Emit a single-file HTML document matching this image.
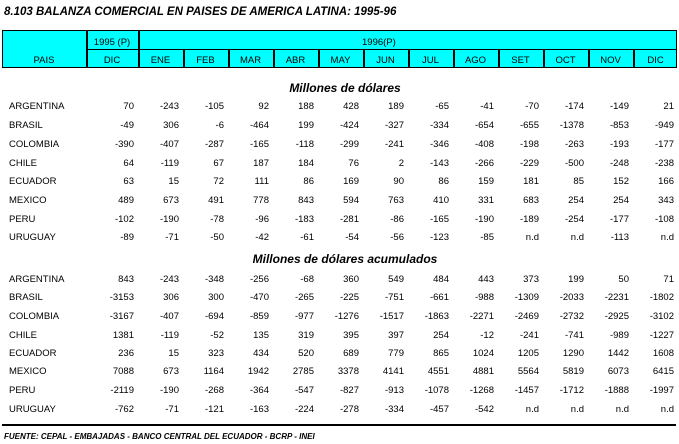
<!DOCTYPE html>
<html><head><meta charset="utf-8"><style>
body{margin:0;width:679px;height:444px;background:#fff;position:relative;overflow:hidden;font-family:"Liberation Sans",Arial,sans-serif;color:#000}
.a{position:absolute;white-space:nowrap;font-size:9.5px;line-height:12px}
.r{text-align:right}
.c{text-align:center}
.bi{font-weight:bold;font-style:italic}
.ln{position:absolute;background:#000}
</style></head><body>
<div class="a bi" style="left:4px;top:5px;font-size:11.5px;line-height:14px">8.103 BALANZA COMERCIAL EN PAISES DE AMERICA LATINA: 1995-96</div>
<div style="position:absolute;left:2px;top:30px;width:673px;height:36px;background:#00ffff;border:1px solid #000"></div>
<div class="ln" style="left:86px;top:49px;width:590px;height:1px"></div>
<div class="ln" style="left:86px;top:30px;width:2px;height:37px"></div>
<div class="ln" style="left:138px;top:30px;width:2px;height:37px"></div>
<div class="a c" style="left:86px;top:37px;width:52px">1995 (P)</div>
<div class="a" style="left:362px;top:37px">1996(P)</div>
<div class="a c" style="left:2px;top:55px;width:84px">PAIS</div>
<div class="a c" style="left:86px;top:55px;width:52px">DIC</div>
<div class="a bi c" style="left:180px;top:81px;width:330px;font-size:12px;line-height:14px">Millones de dólares</div>
<div class="a bi c" style="left:180px;top:252px;width:330px;font-size:12px;line-height:14px">Millones de dólares acumulados</div>
<div class="ln" style="left:2px;top:424px;width:674px;height:2px"></div>
<div class="a bi" style="left:4px;top:432px;font-size:8px;line-height:10px">FUENTE: CEPAL - EMBAJADAS - BANCO CENTRAL DEL ECUADOR - BCRP - INEI</div>
<div id="t"></div>
<script>
var m=["ENE","FEB","MAR","ABR","MAY","JUN","JUL","AGO","SET","OCT","NOV","DIC"];
var h="";
for(var i=0;i<12;i++){var x=138+i*45;h+='<div class="a c" style="left:'+x+'px;top:55px;width:45px">'+m[i]+'</div>';
if(i>0)h+='<div class="ln" style="left:'+x+'px;top:49px;width:2px;height:18px"></div>';}
var n=["ARGENTINA","BRASIL","COLOMBIA","CHILE","ECUADOR","MEXICO","PERU","URUGUAY"];
var d1=[[70,-243,-105,92,188,428,189,-65,-41,-70,-174,-149,21],
[-49,306,-6,-464,199,-424,-327,-334,-654,-655,-1378,-853,-949],
[-390,-407,-287,-165,-118,-299,-241,-346,-408,-198,-263,-193,-177],
[64,-119,67,187,184,76,2,-143,-266,-229,-500,-248,-238],
[63,15,72,111,86,169,90,86,159,181,85,152,166],
[489,673,491,778,843,594,763,410,331,683,254,254,343],
[-102,-190,-78,-96,-183,-281,-86,-165,-190,-189,-254,-177,-108],
[-89,-71,-50,-42,-61,-54,-56,-123,-85,"n.d","n.d",-113,"n.d"]];
var d2=[[843,-243,-348,-256,-68,360,549,484,443,373,199,50,71],
[-3153,306,300,-470,-265,-225,-751,-661,-988,-1309,-2033,-2231,-1802],
[-3167,-407,-694,-859,-977,-1276,-1517,-1863,-2271,-2469,-2732,-2925,-3102],
[1381,-119,-52,135,319,395,397,254,-12,-241,-741,-989,-1227],
[236,15,323,434,520,689,779,865,1024,1205,1290,1442,1608],
[7088,673,1164,1942,2785,3378,4141,4551,4881,5564,5819,6073,6415],
[-2119,-190,-268,-364,-547,-827,-913,-1078,-1268,-1457,-1712,-1888,-1997],
[-762,-71,-121,-163,-224,-278,-334,-457,-542,"n.d","n.d","n.d","n.d"]];
var y1=[107,126,145,164,182,201,220,238],y2=[280,298,317,336,354,372,391,410];
function blk(d,ys){for(var r=0;r<8;r++){var t=ys[r]-6;
h+='<div class="a" style="left:9px;top:'+t+'px">'+n[r]+'</div>';
for(var c=0;c<13;c++){var right=(c==0?138:138+c*45)-4;
h+='<div class="a r" style="left:'+(right-50)+'px;top:'+t+'px;width:50px">'+d[r][c]+'</div>';}}}
blk(d1,y1);blk(d2,y2);
document.getElementById("t").innerHTML=h;
</script>
</body></html>
